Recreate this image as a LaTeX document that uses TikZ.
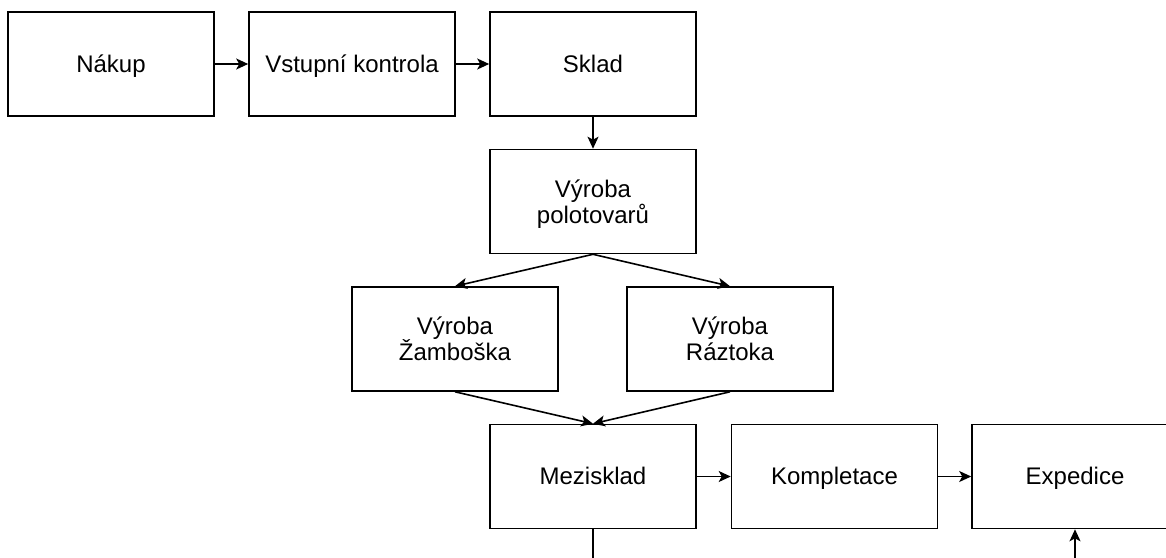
\documentclass[tikz,border=0pt]{standalone}
\usepackage{fontspec}
\setmainfont{Liberation Sans}
\usetikzlibrary{arrows.meta}

\begin{document}
\begin{tikzpicture}[x=1pt,y=-1pt,
    blok/.style={draw, line width=1.6pt, minimum width=206pt, minimum height=104pt,
      align=center, font=\fontsize{24}{26}\selectfont},
    radek/.style={blok, text height=17.5pt, text depth=1.5pt},
    dvaradky/.style={blok, text height=43pt, text depth=0pt},
    tok/.style={line width=1.6pt, -{Stealth[length=12pt,width=11pt,inset=3pt]}}]
  \useasboundingbox (0,0) rectangle (1166,557);

  \node [radek] (nakup) at (111,64) {Nákup};
  \node [radek] (vstup) at (352,64) {Vstupní kontrola};
  \node [radek] (sklad) at (593,64) {Sklad};
  \node [dvaradky] (polot) at (593,201.5) {Výroba\\polotovarů};
  \node [dvaradky] (zamb) at (455,339) {Výroba\\Žamboška};
  \node [dvaradky] (razt) at (730,339) {Výroba\\Ráztoka};
  \node [radek] (mezi) at (593,476.5) {Mezisklad};
  \node [radek] (kompl) at (834.5,476.5) {Kompletace};
  \node [radek] (exped) at (1075,476.5) {Expedice};
  \coordinate (mezidol) at (593,560);
  \coordinate (expdol) at (1075,560);

  \draw [tok] (nakup) -- (vstup);
  \draw [tok] (vstup) -- (sklad);
  \draw [tok] (sklad) -- (polot);
  \draw [tok] (polot.south) -- (zamb.north);
  \draw [tok] (polot.south) -- (razt.north);
  \draw [tok] (zamb.south) -- (mezi.north);
  \draw [tok] (razt.south) -- (mezi.north);
  \draw [tok] (mezi) -- (kompl);
  \draw [tok] (kompl) -- (exped);
  \draw [line width=1.6pt] (mezi.south) -- (mezidol);
  \draw [tok] (expdol) -- (exped.south);
\end{tikzpicture}
\end{document}
